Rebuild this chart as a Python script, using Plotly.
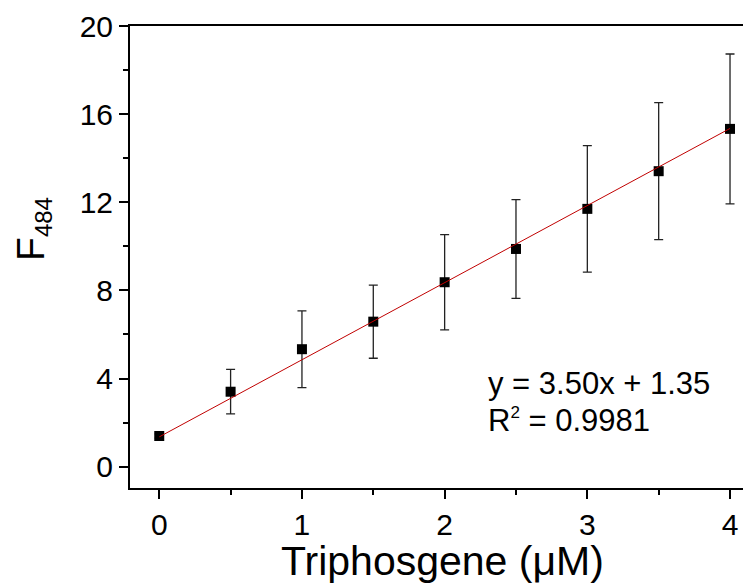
import plotly.graph_objects as go

conc = [0, 0.5, 1, 1.5, 2, 2.5, 3, 3.5, 4]
f484 = [1.39, 3.40, 5.33, 6.58, 8.37, 9.88, 11.70, 13.41, 15.33]
f484_err = [0.1, 1.01, 1.74, 1.66, 2.16, 2.24, 2.87, 3.11, 3.40]
slope = 3.50
intercept = 1.35
r2 = 0.9981
x_ticks = [0, 1, 2, 3, 4]
y_ticks = [0, 4, 8, 12, 16, 20]
x_title = "Triphosgene (\u03bcM)"
y_title = "F<sub><span style='font-size:24px'>484</span></sub>"

FONT = "Liberation Sans, Arial, sans-serif"

fig = go.Figure()
fig.add_trace(go.Scatter(
    x=conc, y=f484, mode="markers",
    marker=dict(symbol="square", size=10, color="black"),
    error_y=dict(type="data", array=f484_err, visible=True, color="#222222", thickness=1.3, width=4.5),
    showlegend=False,
))
fit_x = [conc[0], conc[-1]]
fig.add_trace(go.Scatter(
    x=fit_x, y=[slope * v + intercept for v in fit_x], mode="lines",
    line=dict(color="#c00000", width=1), showlegend=False,
))

fig.add_annotation(
    x=0.574, y=0.227, xref="paper", yref="paper", xanchor="left", yanchor="middle",
    text=f"y = {slope:.2f}x + {intercept:.2f}", showarrow=False,
    font=dict(family=FONT, size=31, color="black"),
)
fig.add_annotation(
    x=0.574, y=0.147, xref="paper", yref="paper", xanchor="left", yanchor="middle",
    text=f"R<sup><span style='font-size:17px'>2</span></sup> = {r2:.4f}", showarrow=False,
    font=dict(family=FONT, size=31, color="black"),
)
fig.add_annotation(
    x=0.504, y=-0.158, xref="paper", yref="paper", xanchor="center", yanchor="middle",
    text=x_title, showarrow=False,
    font=dict(family=FONT, size=41, color="black"),
)
fig.add_annotation(
    x=-0.156, y=0.561, xref="paper", yref="paper", xanchor="center", yanchor="middle",
    text=y_title, showarrow=False, textangle=-90,
    font=dict(family=FONT, size=39, color="black"),
)

# page body adds an 8px offset; figure is sized so the plot lands where the reference has it
fig.update_layout(
    width=743, height=577,
    margin=dict(l=122, r=0, t=18, b=97),
    paper_bgcolor="white", plot_bgcolor="white",
    font=dict(family=FONT, color="black"),
    xaxis=dict(
        range=[-0.205, 4.147], tickvals=x_ticks, ticktext=[str(v) for v in x_ticks],
        showline=True, linecolor="black", linewidth=2, mirror=True,
        ticks="outside", ticklen=9, tickwidth=2, tickcolor="black",
        minor=dict(dtick=0.5, tick0=0, ticks="outside", ticklen=5, tickwidth=2, tickcolor="black"),
        showgrid=False, zeroline=False, automargin=False,
        tickfont=dict(family=FONT, size=30),
    ),
    yaxis=dict(
        range=[-0.97, 20], tickvals=y_ticks, ticktext=[str(v) for v in y_ticks],
        showline=True, linecolor="black", linewidth=2, mirror=False,
        ticks="outside", ticklen=9, tickwidth=2, tickcolor="black",
        minor=dict(dtick=2, tick0=0, ticks="outside", ticklen=5, tickwidth=2, tickcolor="black"),
        showgrid=False, zeroline=False, automargin=False,
        tickfont=dict(family=FONT, size=30),
    ),
)

fig.write_html("out.html")
